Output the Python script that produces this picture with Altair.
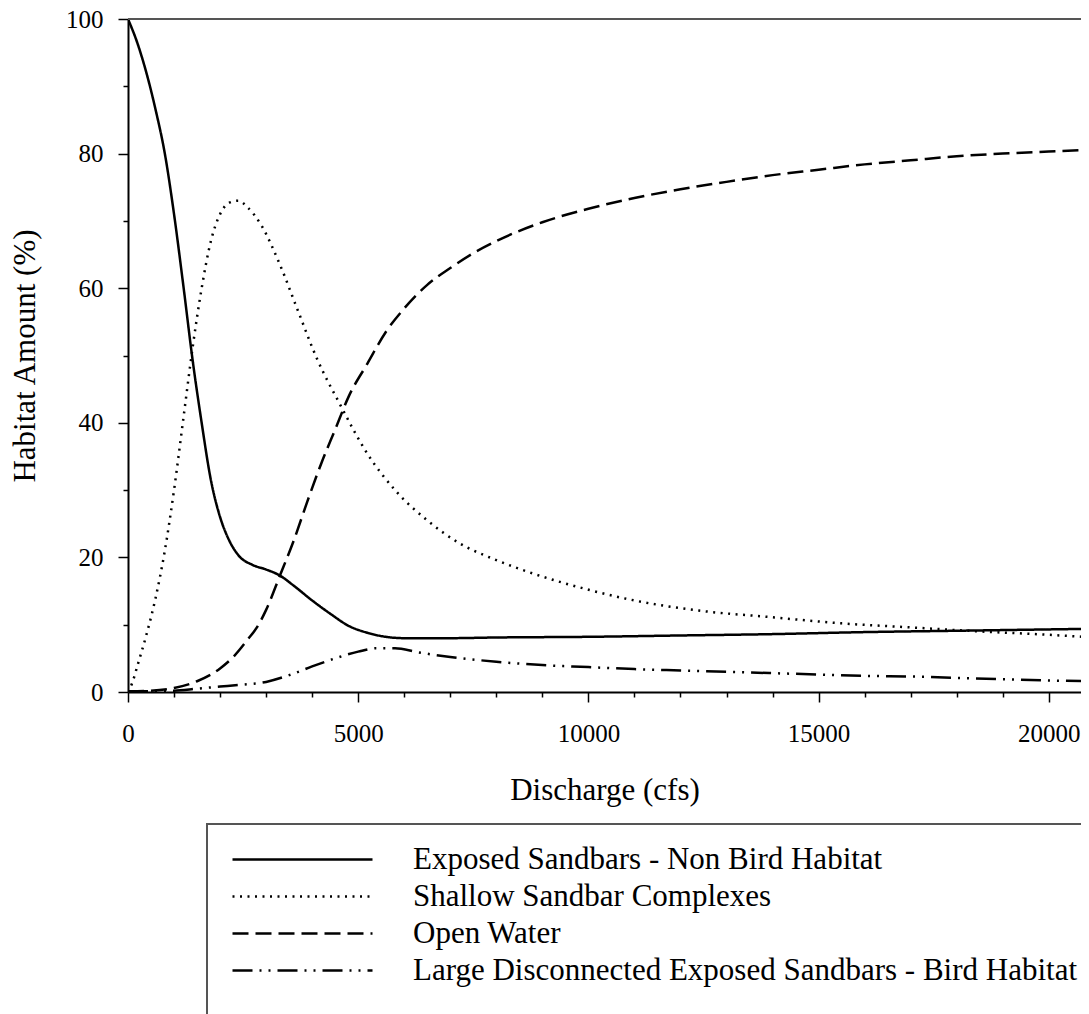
import altair as alt
import pandas as pd

FONT = "Liberation Serif"

series_names = [
    "Exposed Sandbars - Non Bird Habitat",
    "Shallow Sandbar Complexes",
    "Open Water",
    "Large Disconnected Exposed Sandbars - Bird Habitat",
]

# Exposed Sandbars - Non Bird Habitat (solid)
q_exposed = [0, 200, 400, 600, 800, 1000, 1200, 1400, 1600, 1800, 2000, 2200, 2400, 2700,
             3000, 3300, 3600, 4000, 4400, 4800, 5200, 5600, 6000, 7000, 8000, 10000,
             12000, 14000, 16000, 18000, 20000, 21000]
v_exposed = [100, 96.5, 92, 86.5, 80, 71, 60.5, 49.5, 40, 31.5, 26, 22.5, 20.3, 18.9,
             18.2, 17.3, 15.8, 13.6, 11.6, 9.8, 8.8, 8.2, 8.0, 8.0, 8.1, 8.2,
             8.4, 8.6, 8.9, 9.1, 9.3, 9.4]

# Shallow Sandbar Complexes (dotted)
q_shallow = [0, 100, 200, 400, 600, 800, 1000, 1200, 1400, 1600, 1800, 2000, 2200, 2400,
             2600, 2900, 3300, 3700, 4100, 4600, 5200, 5800, 6500, 7200, 8000, 8800,
             10000, 11000, 12400, 14000, 15500, 17000, 18500, 20000, 21000]
v_shallow = [0, 1.5, 3.8, 8.5, 14, 21, 30, 40.5, 51, 60, 67, 71, 72.7, 73,
             72, 69.3, 63.5, 56.5, 49.6, 42.8, 35.4, 30, 25.5, 22.1, 19.6, 17.6,
             15.2, 13.6, 12.1, 11.1, 10.2, 9.6, 9.0, 8.5, 8.1]

# Open Water (dashed)
q_open = [0, 500, 1000, 1500, 2000, 2300, 2600, 2800, 3000, 3300, 3600, 3900, 4200, 4500,
          4800, 5200, 5600, 6000, 6500, 7000, 7500, 8000, 9000, 10000, 11000, 12000,
          13000, 14000, 15000, 16000, 17000, 18000, 19000, 20000, 21000]
v_open = [0.1, 0.2, 0.6, 1.6, 3.5, 5.3, 7.8, 9.6, 12.2, 17.3, 22.5, 28.4, 34, 39,
          44, 48.8, 53.5, 57, 60.5, 63, 65.2, 67, 69.8, 71.8, 73.4, 74.7,
          75.8, 76.8, 77.6, 78.4, 79.0, 79.6, 80.0, 80.3, 80.6]

# Large Disconnected Exposed Sandbars - Bird Habitat (dash-dot-dot)
q_bird = [0, 1000, 1500, 2000, 2500, 3000, 3500, 4000, 4500, 5000, 5400, 5800, 6300, 7000,
          8000, 9000, 10000, 11000, 12000, 13000, 14000, 15000, 16000, 17000, 18000,
          19000, 20000, 21000]
v_bird = [0.1, 0.2, 0.5, 0.8, 1.1, 1.5, 2.5, 3.8, 5.0, 6.0, 6.5, 6.5, 5.9, 5.2,
          4.5, 4.0, 3.7, 3.4, 3.2, 3.0, 2.8, 2.6, 2.4, 2.3, 2.1,
          1.9, 1.7, 1.6]

x_tick_values = list(range(0, 20001, 1000))
y_tick_values = list(range(0, 101, 5))

rows = []
for name, qs, vs in zip(series_names,
                        [q_exposed, q_shallow, q_open, q_bird],
                        [v_exposed, v_shallow, v_open, v_bird]):
    for q, v in zip(qs, vs):
        rows.append({"series": name, "q": q, "v": v})
df = pd.DataFrame(rows)

W, H = 953, 673
TOP = 11

x_axis = alt.Axis(
    values=x_tick_values, format="d",
    labelExpr="datum.value % 5000 === 0 ? datum.label : ''",
    tickSize={"condition": {"test": "datum.value % 5000 === 0", "value": 10}, "value": 5},
    tickColor="black", tickWidth=1.5,
    domainColor="black", domainWidth=2,
    labelFont=FONT, labelFontSize=25, labelColor="black", labelPadding=19,
    labelFlush=False, labelOverlap=False,
    title="Discharge (cfs)", titleFont=FONT, titleFontSize=31, titleFontWeight="normal",
    titleColor="black", titleY=98, titleBaseline="middle",
    grid=False,
)

y_axis = alt.Axis(
    values=y_tick_values, format="d",
    labelExpr="datum.value % 20 === 0 ? datum.label : ''",
    tickSize={"condition": {"test": "datum.value % 20 === 0", "value": 10}, "value": 5},
    tickColor="black", tickWidth=1.5,
    domainColor="black", domainWidth=2,
    labelFont=FONT, labelFontSize=25, labelColor="black", labelPadding=15,
    labelFlush=False, labelOverlap=False,
    title="Habitat Amount (%)", titleFont=FONT, titleFontSize=31, titleFontWeight="normal",
    titleColor="black", titleAngle=270, titleX=-103, titleY=H / 2,
    titleBaseline="middle", titleAlign="center",
    grid=False,
)

x_enc = alt.X("q:Q", scale=alt.Scale(domain=[0, 20700], nice=False, zero=False), axis=x_axis)
y_enc = alt.Y("v:Q", scale=alt.Scale(domain=[0, 100], nice=False), axis=y_axis)

lines = alt.Chart(df).mark_line(
    color="black", strokeWidth=2.5, interpolate="monotone", clip=True
).encode(
    x=x_enc,
    y=y_enc,
    strokeDash=alt.StrokeDash(
        "series:N",
        sort=series_names,
        scale=alt.Scale(domain=series_names,
                        range=[[1, 0], [2, 5.5], [16, 7], [20, 7, 2, 7, 2, 7]]),
        legend=alt.Legend(
            title=" ", titleOrient="bottom", titleFontSize=20, titlePadding=10,
            orient="none", legendX=79, legendY=824 - 8 - TOP,
            symbolType="M -1 0 L 13 0", symbolSize=400,
            symbolStrokeWidth=2.5, symbolStrokeColor="black",
            symbolFillColor="transparent", symbolOpacity=1,
            labelFont=FONT, labelFontSize=31, labelColor="black",
            labelOffset=155, labelLimit=0,
            padding=20, rowPadding=5,
            strokeColor="#555",
        ),
    ),
    detail="series:N",
)

top_line = alt.Chart(df).mark_rule(color="#555", strokeWidth=2).encode(
    y=alt.datum(100)
)

chart = alt.layer(lines, top_line).properties(
    width=W, height=H,
    autosize=alt.AutoSizeParams(type="none"),
    padding={"left": 120, "top": TOP, "right": 0, "bottom": 1006 - H - TOP},
    background="white",
).configure_view(stroke=None).configure_legend(strokeWidth=2)

chart.save("out.html", embed_options={"renderer": "svg", "actions": False})
